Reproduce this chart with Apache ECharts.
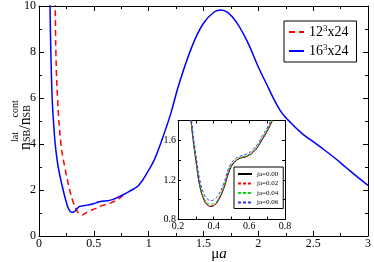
<!DOCTYPE html>
<html>
<head>
<meta charset="utf-8">
<script src="https://cdn.jsdelivr.net/npm/echarts@6/dist/echarts.min.js"></script>
<style>html,body{margin:0;padding:0;background:#fff}#c{width:374px;height:262px}</style>
</head>
<body>
<div id="c"></div>
<script>
// ---- Main plot data (x = mu*a, y = n_SB^lat / n_SB^cont) ----
const xL16 = [0.09,0.10,0.108,0.12,0.132,0.148,0.175,0.22,0.25,0.27,0.296,0.32,0.35,0.37,0.42,0.46,0.52,0.56,0.62,0.67,0.75,0.82,0.91,1.0,1.05,1.1,1.2,1.276,1.4,1.5,1.6,1.66,1.72,1.8,1.9,2.0,2.06,2.2,2.3,2.4,2.5,2.6,2.7,2.8,2.9,3.0];
const yL16 = [12.5,10.0,8.0,6.0,5.0,4.0,3.0,2.0,1.45,1.18,1.03,1.05,1.2,1.28,1.33,1.36,1.44,1.50,1.53,1.58,1.75,1.93,2.21,2.86,3.3,3.9,5.3,6.6,8.3,9.25,9.75,9.83,9.72,9.3,8.45,7.35,6.75,5.45,4.9,4.45,4.1,3.75,3.38,2.98,2.58,2.2];
const xL12 = [0.14,0.148,0.154,0.169,0.2,0.235,0.28,0.31,0.34,0.365,0.386,0.41,0.45,0.52,0.58,0.64,0.67,0.73,0.79];
const yL12 = [12.0,10.0,8.0,6.0,4.0,3.0,2.0,1.5,1.15,0.97,0.91,0.95,1.07,1.2,1.33,1.41,1.47,1.62,1.87];
const mainNames = ['12^3x24','16^3x24'];
const mainXTicks = ['0','0.5','1','1.5','2','2.5','3'];

// ---- Inset data (16^3x24, several source values j*a) ----
const xIn = [0.27,0.285,0.30,0.323,0.35,0.37,0.385,0.40,0.42,0.454,0.49,0.52,0.55,0.576,0.60,0.622,0.65,0.67,0.70,0.73,0.75];
const yJ000 = [1.85,1.60,1.40,1.13,0.98,0.94,0.932,0.94,0.975,1.10,1.30,1.385,1.42,1.43,1.45,1.48,1.54,1.60,1.69,1.80,1.87];
const yJ002 = [1.85,1.605,1.405,1.135,0.985,0.945,0.937,0.945,0.98,1.105,1.305,1.388,1.422,1.433,1.453,1.484,1.545,1.605,1.695,1.805,1.875];
const yJ004 = [1.86,1.62,1.42,1.15,1.00,0.962,0.955,0.962,0.995,1.12,1.32,1.395,1.428,1.44,1.46,1.495,1.555,1.615,1.705,1.815,1.885];
const yJ006 = [1.90,1.66,1.46,1.19,1.04,1.00,0.99,0.998,1.03,1.15,1.345,1.41,1.44,1.455,1.475,1.51,1.57,1.635,1.725,1.835,1.90];
const insetNames = ['ja=0.00','ja=0.02','ja=0.04','ja=0.06'];
const insetXTicks = ['0.2','0.4','0.6','0.8'];
const insetYTicks = ['0.8','1.2','1.6'];

const zip = (xs, ys) => xs.map((x, i) => [x, ys[i]]);
const FONT = '"Liberation Serif", "Times New Roman", serif';

const mainAxisCommon = {
  axisLine: {show: true, onZero: false, lineStyle: {color: '#000', width: 1}},
  axisTick: {show: true, inside: true, length: 5, lineStyle: {color: '#000'}},
  minorTick: {show: true, splitNumber: 2, length: 3, lineStyle: {color: '#000'}},
  splitLine: {show: false}
};
const insetAxisCommon = {
  axisLine: {show: true, onZero: false, lineStyle: {color: '#000', width: 1}},
  axisTick: {show: true, inside: true, length: 3, lineStyle: {color: '#000'}},
  splitLine: {show: false}
};
const near = (v, list) => list.some(t => Math.abs(parseFloat(t) - v) < 1e-6);
const noSymbol = {color: 'transparent', borderWidth: 0, opacity: 0};

const option = {
  animation: false,
  backgroundColor: '#fff',
  textStyle: {fontFamily: FONT},
  grid: [
    {left: 39, right: 3, top: 5, bottom: 26, show: false},
    {left: 178, top: 120.5, width: 107, height: 99, show: true, backgroundColor: '#fff', borderWidth: 0, z: 3}
  ],
  xAxis: [
    Object.assign({type: 'value', gridIndex: 0, position: 'bottom', min: 0, max: 3, interval: 0.5,
      axisLabel: {show: true, margin: 2, fontSize: 12, fontFamily: FONT, color: '#000',
        formatter: v => near(v, mainXTicks) ? String(+v.toFixed(2)) : ''}}, mainAxisCommon),
    Object.assign({type: 'value', gridIndex: 0, position: 'top', min: 0, max: 3, interval: 0.5,
      axisLabel: {show: false}}, mainAxisCommon),
    Object.assign({type: 'value', gridIndex: 1, position: 'bottom', min: 0.2, max: 0.8, interval: 0.1, z: 4,
      axisLabel: {show: true, margin: 2, fontSize: 10, fontFamily: FONT, color: '#000',
        formatter: v => near(v, insetXTicks) ? v.toFixed(1) : ''}}, insetAxisCommon),
    Object.assign({type: 'value', gridIndex: 1, position: 'top', min: 0.2, max: 0.8, interval: 0.1, z: 4,
      axisLabel: {show: false}}, insetAxisCommon)
  ],
  yAxis: [
    Object.assign({type: 'value', gridIndex: 0, position: 'left', min: 0, max: 10, interval: 2,
      axisLabel: {show: true, margin: 3, fontSize: 12, fontFamily: FONT, color: '#000'}}, mainAxisCommon),
    Object.assign({type: 'value', gridIndex: 0, position: 'right', min: 0, max: 10, interval: 2,
      axisLabel: {show: false}}, mainAxisCommon),
    Object.assign({type: 'value', gridIndex: 1, position: 'left', min: 0.8, max: 1.8, interval: 0.2, z: 4,
      axisLabel: {show: true, margin: 2, fontSize: 10, fontFamily: FONT, color: '#000',
        formatter: v => near(v, insetYTicks) ? v.toFixed(1) : ''}}, insetAxisCommon),
    Object.assign({type: 'value', gridIndex: 1, position: 'right', min: 0.8, max: 1.8, interval: 0.2, z: 4,
      axisLabel: {show: false}}, insetAxisCommon)
  ],
  legend: [
    {
      data: mainNames, orient: 'vertical', left: 284, top: 21,
      padding: [3, 8, 3, 4], itemGap: 3, itemWidth: 15, itemHeight: 10,
      borderColor: '#000', borderWidth: 1, backgroundColor: '#fff', selectedMode: false,
      itemStyle: noSymbol,
      formatter: n => n.replace('^3', '{s|3}'),
      textStyle: {fontFamily: FONT, fontSize: 14, color: '#000', lineHeight: 16,
        rich: {s: {fontSize: 9, fontFamily: FONT, color: '#000', verticalAlign: 'top', lineHeight: 16}}}
    },
    {
      data: insetNames, orient: 'vertical', left: 234, top: 167, z: 5,
      padding: [3, 5, 2, 3], itemGap: 1.5, itemWidth: 14, itemHeight: 8,
      borderColor: '#000', borderWidth: 1, backgroundColor: '#fff', selectedMode: false,
      itemStyle: noSymbol,
      textStyle: {fontFamily: FONT, fontSize: 7, color: '#000', lineHeight: 8}
    }
  ],
  series: [
    {name: mainNames[0], type: 'line', xAxisIndex: 0, yAxisIndex: 0, data: zip(xL12, yL12), symbol: 'none', smooth: 0.4,
      lineStyle: {color: '#ff0000', width: 1.5, type: [6, 4]}, itemStyle: {color: '#ff0000'}},
    {name: mainNames[1], type: 'line', xAxisIndex: 0, yAxisIndex: 0, data: zip(xL16, yL16), symbol: 'none', smooth: 0.4,
      lineStyle: {color: '#0000ff', width: 1.5}, itemStyle: {color: '#0000ff'}},
    {name: insetNames[0], type: 'line', xAxisIndex: 2, yAxisIndex: 2, data: zip(xIn, yJ000), symbol: 'none', smooth: 0.4, z: 5,
      lineStyle: {color: '#000000', width: 1}, itemStyle: {color: '#000000'}},
    {name: insetNames[1], type: 'line', xAxisIndex: 2, yAxisIndex: 2, data: zip(xIn, yJ002), symbol: 'none', smooth: 0.4, z: 5,
      lineStyle: {color: '#ff0000', width: 1, type: [3, 2]}, itemStyle: {color: '#ff0000'}},
    {name: insetNames[2], type: 'line', xAxisIndex: 2, yAxisIndex: 2, data: zip(xIn, yJ004), symbol: 'none', smooth: 0.4, z: 5,
      lineStyle: {color: '#00e000', width: 1, type: [3, 2]}, itemStyle: {color: '#00e000'}},
    {name: insetNames[3], type: 'line', xAxisIndex: 2, yAxisIndex: 2, data: zip(xIn, yJ006), symbol: 'none', smooth: 0.4, z: 5,
      lineStyle: {color: '#3030ff', width: 1, type: [3, 2]}, itemStyle: {color: '#3030ff'}}
  ],
  graphic: [
    {
      type: 'group', x: 18, y: 125, rotation: Math.PI / 2,
      children: [
        {type: 'text', x: -25, y: 0, style: {text: 'n', font: '16px ' + FONT, fill: '#000', verticalAlign: 'alphabetic'}},
        {type: 'text', x: -17, y: 4, style: {text: 'SB', font: '10px ' + FONT, fill: '#000', verticalAlign: 'alphabetic'}},
        {type: 'text', x: -17, y: -8, style: {text: 'lat', font: '10px ' + FONT, fill: '#000', verticalAlign: 'alphabetic'}},
        {type: 'text', x: -4.8, y: 0, style: {text: '/n', font: '16px ' + FONT, fill: '#000', verticalAlign: 'alphabetic'}},
        {type: 'text', x: 7.6, y: 4, style: {text: 'SB', font: '10px ' + FONT, fill: '#000', verticalAlign: 'alphabetic'}},
        {type: 'text', x: 7.6, y: -8, style: {text: 'cont', font: '10px ' + FONT, fill: '#000', verticalAlign: 'alphabetic'}}
      ]
    },
    {
      type: 'text', x: 219, y: 254,
      style: {text: '{m|μ}{a|a}', align: 'center', verticalAlign: 'middle',
        rich: {m: {font: '15px ' + FONT, fill: '#000'}, a: {font: 'italic 15px ' + FONT, fill: '#000'}}}
    }
  ]
};

const chart = echarts.init(document.getElementById('c'), null, {renderer: 'canvas'});
chart.setOption(option);
</script>
</body>
</html>
